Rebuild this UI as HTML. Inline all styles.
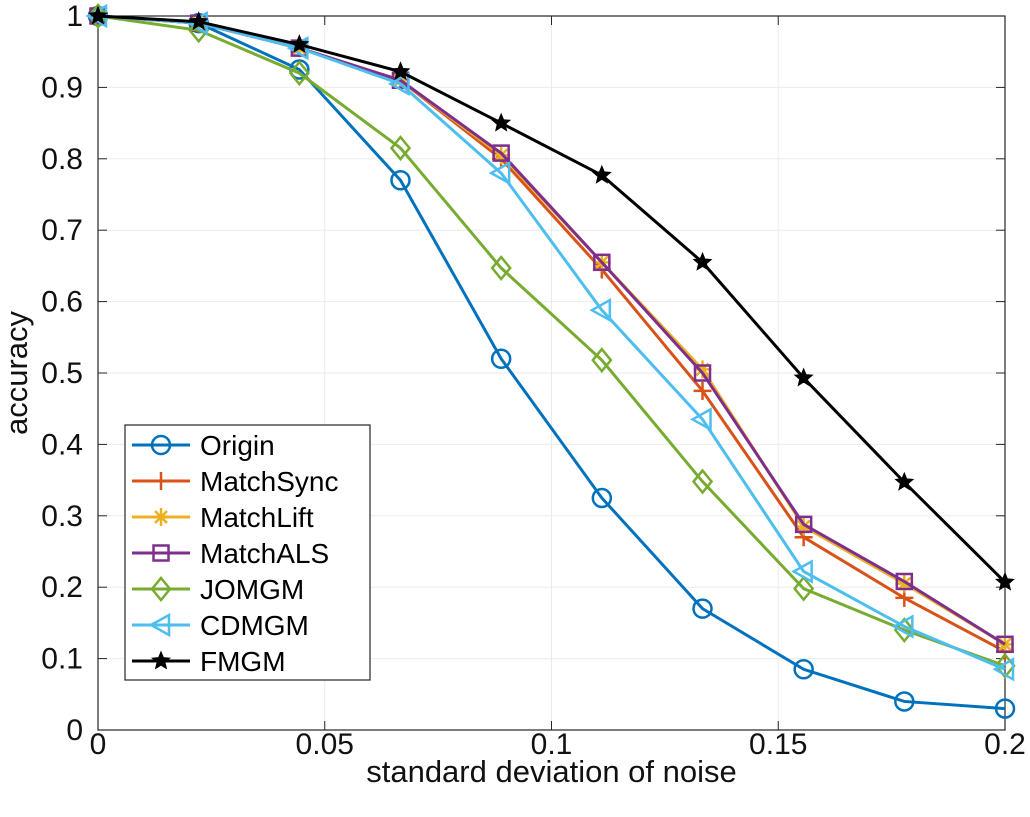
<!DOCTYPE html>
<html><head><meta charset="utf-8"><style>
html,body{margin:0;padding:0;background:#fff;}
svg{display:block;font-family:"Liberation Sans",Arial,sans-serif;}
</style></head><body>
<svg id="chart" width="1030" height="817" xmlns="http://www.w3.org/2000/svg"></svg>
<script>
const xValues=[0,0.0222,0.0444,0.0667,0.0889,0.1111,0.1333,0.1556,0.1778,0.2];
const seriesNames=["Origin","MatchSync","MatchLift","MatchALS","JOMGM","CDMGM","FMGM"];
const origin=[1,0.99,0.925,0.77,0.52,0.325,0.17,0.085,0.04,0.03];
const matchSync=[1,0.99,0.955,0.91,0.80,0.645,0.475,0.27,0.185,0.11];
const matchLift=[1,0.99,0.955,0.91,0.805,0.655,0.505,0.285,0.205,0.12];
const matchALS=[1,0.99,0.955,0.91,0.808,0.655,0.50,0.288,0.208,0.12];
const jomgm=[1,0.98,0.92,0.815,0.647,0.518,0.348,0.198,0.14,0.09];
const cdmgm=[1,0.99,0.955,0.905,0.78,0.588,0.435,0.222,0.145,0.085];
const fmgm=[1,0.992,0.96,0.922,0.85,0.777,0.655,0.493,0.347,0.207];
const xTicks=[0,0.05,0.1,0.15,0.2];
const xTickLabels=["0","0.05","0.1","0.15","0.2"];
const yTicks=[0,0.1,0.2,0.3,0.4,0.5,0.6,0.7,0.8,0.9,1];
const yTickLabels=["0","0.1","0.2","0.3","0.4","0.5","0.6","0.7","0.8","0.9","1"];

const allSeries=[origin,matchSync,matchLift,matchALS,jomgm,cdmgm,fmgm];
const colors=["#0072BD","#D95319","#EDB120","#7E2F8E","#77AC30","#4DBEEE","#000000"];
const markers=["circle","plus","asterisk","square","diamond","triangle","star"];
const L=98,R=1005,T=16,B=730;
const sx=v=>L+(v-0)/(0.2)*(R-L);
const sy=v=>B-(v-0)/1*(B-T);
const svg=document.getElementById('chart');
const NS="http://www.w3.org/2000/svg";
function mk(tag,attrs,parent){const e=document.createElementNS(NS,tag);for(const k in attrs)e.setAttribute(k,attrs[k]);(parent||svg).appendChild(e);return e;}

const grid=mk('g',{});


xTicks.forEach(t=>mk('line',{x1:sx(t),x2:sx(t),y1:T,y2:B,stroke:'#ebebeb','stroke-width':1},grid));
yTicks.forEach(t=>mk('line',{x1:L,x2:R,y1:sy(t),y2:sy(t),stroke:'#ebebeb','stroke-width':1},grid));

const box=mk('rect',{x:L,y:T,width:R-L,height:B-T,fill:'none',stroke:'#262626','stroke-width':1.2});



xTicks.forEach((t,i)=>{
  mk('line',{x1:sx(t),x2:sx(t),y1:B,y2:B-9,stroke:'#262626'});
  mk('line',{x1:sx(t),x2:sx(t),y1:T,y2:T+9,stroke:'#262626'});
  const tx=mk('text',{x:sx(t),y:B+24,'text-anchor':'middle','font-size':30,fill:'#111'});
  tx.textContent=xTickLabels[i];
  
  
});
yTicks.forEach((t,i)=>{
  mk('line',{x1:L,x2:L+9,y1:sy(t),y2:sy(t),stroke:'#262626'});
  mk('line',{x1:R,x2:R-9,y1:sy(t),y2:sy(t),stroke:'#262626'});
  const tx=mk('text',{x:L-15,y:sy(t)+10,'text-anchor':'end','font-size':30,fill:'#111'});
  tx.textContent=yTickLabels[i];
  
  
});
const xl=mk('text',{x:(L+R)/2,y:782,'text-anchor':'middle','font-size':31,fill:'#111'});
xl.textContent='standard deviation of noise';


const yl=mk('text',{x:0,y:0,transform:'translate(27,373) rotate(-90)','text-anchor':'middle','font-size':31,fill:'#111'});
yl.textContent='accuracy';



function marker(type,x,y,c,p){
  const s=9,st={fill:'none',stroke:c,'stroke-width':2.5};
  if(type==='circle')mk('circle',Object.assign({cx:x,cy:y,r:s},st),p);
  else if(type==='plus')mk('path',Object.assign({d:`M${x-s} ${y}H${x+s}M${x} ${y-s}V${y+s}`},st),p);
  else if(type==='asterisk')mk('path',Object.assign({d:`M${x-s} ${y}H${x+s}M${x} ${y-s}V${y+s}M${x-6} ${y-6}L${x+6} ${y+6}M${x-6} ${y+6}L${x+6} ${y-6}`},st),p);
  else if(type==='square')mk('rect',Object.assign({x:x-7.5,y:y-7.5,width:15,height:15},st),p);
  else if(type==='diamond')mk('path',Object.assign({d:`M${x} ${y-11}L${x+9} ${y}L${x} ${y+11}L${x-9} ${y}Z`},st),p);
  else if(type==='triangle')mk('path',Object.assign({d:`M${x-10} ${y}L${x+8} ${y-10}L${x+8} ${y+10}Z`},st),p);
  else if(type==='star'){let d='';for(let k=0;k<10;k++){const a=-Math.PI/2+k*Math.PI/5,r=k%2?3.8:8.5;d+=(k?'L':'M')+(x+r*Math.cos(a))+' '+(y+r*Math.sin(a));}mk('path',{d:d+'Z',fill:c,stroke:c,'stroke-width':1.5},p);}
}

allSeries.forEach((data,si)=>{
  const g=mk('g',{});
  
  
  const pts=data.map((v,i)=>sx(xValues[i])+','+sy(v)).join(' ');
  mk('polyline',{points:pts,fill:'none',stroke:colors[si],'stroke-width':3},g);
  data.forEach((v,i)=>marker(markers[si],sx(xValues[i]),sy(v),colors[si],g));
});

const lg=mk('g',{});


mk('rect',{x:125,y:425,width:245,height:255,fill:'#fff',stroke:'#262626','stroke-width':1.2},lg);
seriesNames.forEach((n,i)=>{
  const y=445+i*36;
  const e=mk('g',{},lg);
  
  
  mk('line',{x1:132,x2:190,y1:y,y2:y,stroke:colors[i],'stroke-width':3},e);
  marker(markers[i],161,y,colors[i],e);
  const t=mk('text',{x:200,y:y+10,'font-size':28,fill:'#000'},e);
  t.textContent=n;
});
</script>
</body></html>
